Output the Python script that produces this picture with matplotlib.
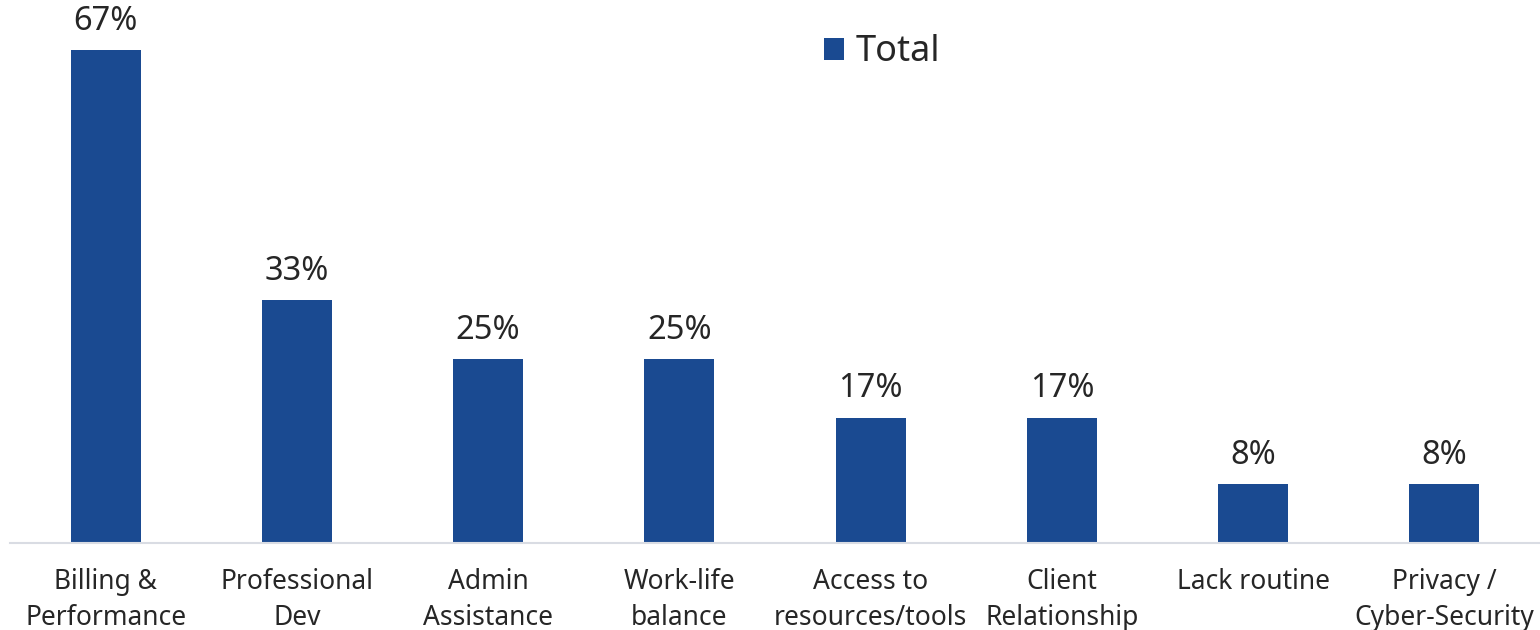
import matplotlib
matplotlib.use("Agg")
import matplotlib.pyplot as plt

categories = ["Billing &\nPerformance", "Professional\nDev", "Admin\nAssistance",
              "Work-life\nbalance", "Access to\nresources/tools", "Client\nRelationship",
              "Lack routine", "Privacy /\nCyber-Security"]
totals = [67, 33, 25, 25, 17, 17, 8, 8]

bar_color = "#1a4a91"
text_color = "#262626"
plt.rcParams["font.family"] = ["Noto Sans", "DejaVu Sans"]

fig = plt.figure(figsize=(15.4, 6.3), dpi=100)
ax = fig.add_axes([10 / 1540, 87 / 630, 1530 / 1540, 543 / 630])

x = range(len(categories))
bars = ax.bar(x, totals, width=0.365, color=bar_color, label="Total", zorder=2)
for b, v in zip(bars, totals):
    ax.annotate(f"{v}%", (b.get_x() + b.get_width() / 2, v),
                xytext=(0, 9), textcoords="offset points",
                ha="center", va="bottom", fontsize=23.5, color=text_color)

ax.set_xlim(-0.5, len(categories) - 0.5)
ax.set_ylim(0, 73.8)
ax.set_xticks(list(x))
ax.set_xticklabels(categories, fontsize=19, color=text_color, linespacing=1.4,
                   va="top")
ax.tick_params(axis="x", length=0, pad=18)
ax.set_yticks([])
for s in ["top", "right", "left"]:
    ax.spines[s].set_visible(False)
ax.spines["bottom"].set_color("#d9dce3")
ax.spines["bottom"].set_linewidth(1.5)

ax.legend(loc="upper left", bbox_to_anchor=(800 / 1530, 1 - 20 / 543), frameon=False,
          fontsize=26, handlelength=0.55, handleheight=0.55, handletextpad=0.3,
          labelcolor=text_color, borderaxespad=0)

fig.savefig("out.png", dpi=100)
